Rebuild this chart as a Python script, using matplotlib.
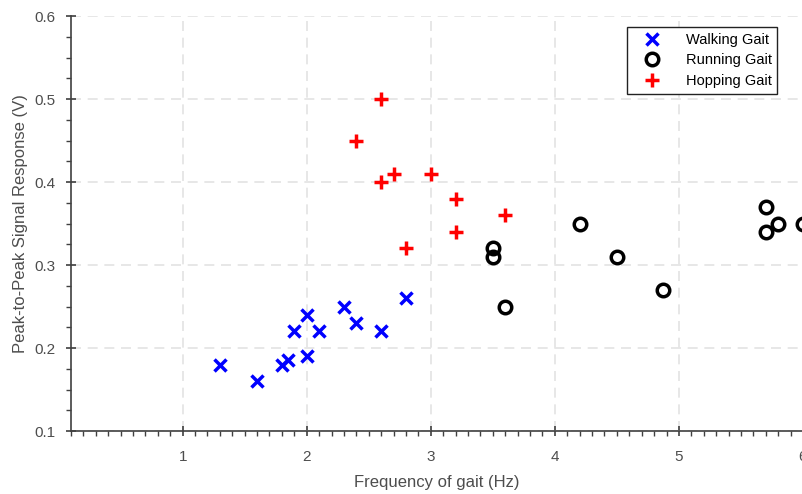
import numpy as np
import matplotlib
matplotlib.use('Agg')
import matplotlib.pyplot as plt
from matplotlib.ticker import MultipleLocator

# walking gait
walk_f = [1.3, 1.6, 1.8, 1.85, 1.9, 2.0, 2.0, 2.1, 2.3, 2.4, 2.6, 2.8]
walk_v = [0.18, 0.16, 0.18, 0.185, 0.22, 0.24, 0.19, 0.22, 0.25, 0.23, 0.22, 0.26]

# running gait
run_f = [3.5, 3.5, 3.6, 4.2, 4.5, 4.87, 5.7, 5.7, 5.8, 6.0]
run_v = [0.32, 0.31, 0.25, 0.35, 0.31, 0.27, 0.37, 0.34, 0.35, 0.35]

# hopping gait
hop_f = [2.6, 2.4, 2.6, 2.7, 3.0, 3.2, 3.2, 2.8, 3.6]
hop_v = [0.5, 0.45, 0.4, 0.41, 0.41, 0.38, 0.34, 0.32, 0.36]


def main():
    plt.rcParams['font.family'] = ['Liberation Sans', 'DejaVu Sans']
    fig = plt.figure(figsize=(8.03, 4.94), dpi=100)
    ax = fig.add_axes([0.0884, 0.1275, 0.9116, 0.8401])
    txt = '#4d4d4d'

    ax.plot(walk_f, walk_v, 'x', color='blue', ms=8, mew=2.5, label='Walking Gait')
    ax.plot(run_f, run_v, 'o', color='black', mfc='none', ms=9, mew=2.5, label='Running Gait')
    ax.plot(hop_f, hop_v, '+', color='red', ms=10, mew=2.5, label='Hopping Gait')

    ax.set_xlim(0.1, 6)
    ax.set_ylim(0.1, 0.6)
    ax.set_xticks([1, 2, 3, 4, 5, 6])
    ax.set_yticks([0.1, 0.2, 0.3, 0.4, 0.5, 0.6])
    ax.set_yticklabels(['0.1', '0.2', '0.3', '0.4', '0.5', '0.6'])
    ax.xaxis.set_minor_locator(MultipleLocator(0.1))
    ax.yaxis.set_minor_locator(MultipleLocator(0.025))

    for s in ['top', 'right']:
        ax.spines[s].set_visible(False)
    for s in ['left', 'bottom']:
        ax.spines[s].set_color('#404040')
        ax.spines[s].set_linewidth(1.2)
    ax.tick_params(which='major', direction='inout', length=7, width=1.2, colors='#404040',
                   labelcolor=txt, labelsize=11)
    ax.tick_params(which='minor', direction='out', length=3.5, width=1.0, colors='#404040')
    ax.tick_params(axis='x', which='major', pad=10)
    ax.tick_params(axis='y', which='major', pad=8)

    ax.grid(True, which='major', linestyle=(0, (6, 4)), color='#e3e3e3', linewidth=1.2)
    ax.set_axisbelow(True)

    ax.set_xlabel('Frequency of gait (Hz)', fontsize=12, color=txt, labelpad=8)
    ax.set_ylabel('Peak-to-Peak Signal Response (V)', fontsize=12, color=txt, labelpad=4)

    leg = ax.legend(loc='upper right', bbox_to_anchor=(0.965, 0.974), fontsize=10.5,
                    fancybox=False, edgecolor='#222222', framealpha=1,
                    handlelength=2.6, handletextpad=1.0, borderpad=0.4, labelspacing=0.45,
                    borderaxespad=0)
    leg.get_frame().set_linewidth(1.0)

    fig.savefig('out.png', dpi=100)


if __name__ == '__main__':
    main()
